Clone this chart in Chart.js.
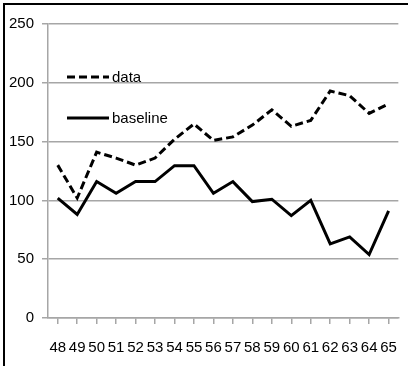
<!DOCTYPE html>
<html>
<head>
<meta charset="utf-8">
<script src="https://cdn.jsdelivr.net/npm/chart.js@4"></script>
<style>
  html, body { margin: 0; padding: 0; background: #fff; overflow: hidden; width: 408px; height: 366px; }
  #frame { position: absolute; left: 3px; top: 3px; width: 420px; height: 380px; border-left: 2px solid #000; border-top: 2px solid #000; }
  #chart { position: absolute; left: 0; top: 0; }
</style>
</head>
<body>
<div id="frame"></div>
<canvas id="chart" width="412" height="366"></canvas>
<script>
const categories = ['48','49','50','51','52','53','54','55','56','57','58','59','60','61','62','63','64','65'];
const dataValues = [130, 102, 141, 136, 130, 136, 152, 165, 151, 154, 164, 177, 163, 168, 193, 189, 174, 182];
const baselineValues = [102, 88, 116, 106, 116, 116, 129.5, 129.5, 106, 116, 99, 101, 87, 100, 63, 69, 54, 91];
const yTicks = [0, 50, 100, 150, 200, 250];

const FONT = '"Liberation Sans", Arial, sans-serif';
const GRID = '#a6a6a6';

// legend drawn inside the plot, top-left, like the original
const innerLegend = {
  id: 'innerLegend',
  afterDraw(chart) {
    const ctx = chart.ctx;
    const items = [
      { ds: chart.data.datasets[0], x: 67, y: 77 },
      { ds: chart.data.datasets[1], x: 67, y: 118 }
    ];
    ctx.save();
    items.forEach(it => {
      ctx.strokeStyle = it.ds.borderColor;
      ctx.lineWidth = it.ds.borderWidth;
      ctx.setLineDash(it.ds.borderDash || []);
      ctx.beginPath();
      ctx.moveTo(it.x, it.y);
      ctx.lineTo(it.x + 42, it.y);
      ctx.stroke();
      ctx.setLineDash([]);
      ctx.fillStyle = '#000';
      ctx.font = '15px ' + FONT;
      ctx.textBaseline = 'middle';
      ctx.fillText(it.ds.label, it.x + 45, it.y + 1);
    });
    ctx.restore();
  }
};

new Chart(document.getElementById('chart'), {
  type: 'line',
  data: {
    labels: categories,
    datasets: [
      { label: 'data', data: dataValues, borderColor: '#000', borderWidth: 3, borderDash: [8, 4], pointRadius: 0, fill: false, tension: 0 },
      { label: 'baseline', data: baselineValues, borderColor: '#000', borderWidth: 3, pointRadius: 0, fill: false, tension: 0 }
    ]
  },
  options: {
    responsive: false,
    animation: false,
    layout: { padding: { left: 0, top: 24, right: 2, bottom: 0 } },
    plugins: { legend: { display: false }, tooltip: { enabled: false } },
    scales: {
      x: {
        offset: true,
        grid: { drawOnChartArea: false, drawTicks: true, tickLength: 6, color: GRID, lineWidth: 1.5 },
        border: { color: GRID, width: 1.5 },
        ticks: { color: '#000', font: { family: FONT, size: 15 }, padding: 15, maxRotation: 0, autoSkip: false },
        afterFit(scale) { scale.height = 48; }
      },
      y: {
        min: 0,
        max: 250,
        afterBuildTicks(scale) { scale.ticks = yTicks.map(v => ({ value: v })); },
        grid: { color: GRID, lineWidth: 1.5, tickLength: 6 },
        border: { color: GRID, width: 1.5 },
        ticks: { color: '#000', font: { family: FONT, size: 15 }, padding: 8 },
        afterFit(scale) { scale.width = 48; }
      }
    }
  },
  plugins: [innerLegend]
});
</script>
</body>
</html>
